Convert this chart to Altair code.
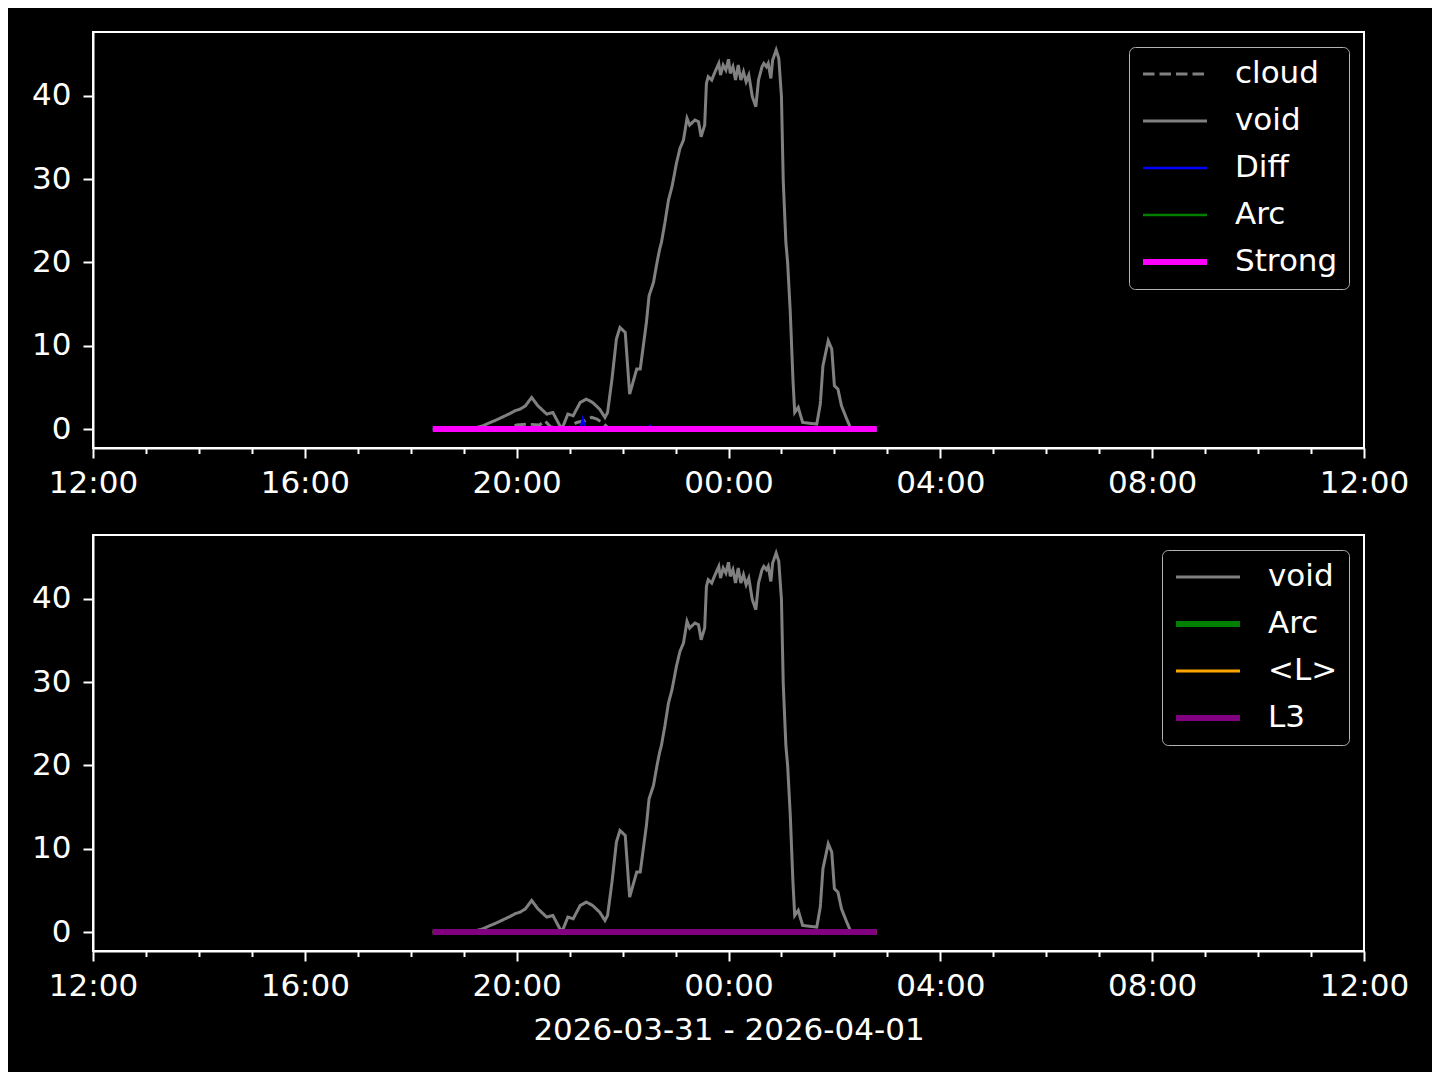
import altair as alt
import pandas as pd

# ---------------- data ----------------
VOID_T = [
    "03-31 18:25", "03-31 19:07", "03-31 19:15", "03-31 19:22", "03-31 19:28",
    "03-31 19:35", "03-31 19:41", "03-31 19:47", "03-31 19:53", "03-31 19:58",
    "03-31 20:04", "03-31 20:10", "03-31 20:17", "03-31 20:24", "03-31 20:29",
    "03-31 20:34", "03-31 20:41", "03-31 20:45", "03-31 20:49", "03-31 20:52",
    "03-31 20:58", "03-31 21:04", "03-31 21:12", "03-31 21:19", "03-31 21:26",
    "03-31 21:34", "03-31 21:40", "03-31 21:43", "03-31 21:48", "03-31 21:53",
    "03-31 21:57", "03-31 22:03", "03-31 22:08", "03-31 22:16", "03-31 22:20",
    "03-31 22:23", "03-31 22:27", "03-31 22:30", "03-31 22:35", "03-31 22:39",
    "03-31 22:42", "03-31 22:44", "03-31 22:48", "03-31 22:52", "03-31 22:56",
    "03-31 23:01", "03-31 23:05", "03-31 23:09", "03-31 23:13", "03-31 23:16",
    "03-31 23:22", "03-31 23:26", "03-31 23:29", "03-31 23:33", "03-31 23:35",
    "03-31 23:37", "03-31 23:41", "03-31 23:44", "03-31 23:49", "03-31 23:51",
    "03-31 23:54", "03-31 23:57", "04-01 00:00", "04-01 00:02", "04-01 00:05",
    "04-01 00:08", "04-01 00:11", "04-01 00:14", "04-01 00:17", "04-01 00:20",
    "04-01 00:23", "04-01 00:27", "04-01 00:31", "04-01 00:34", "04-01 00:38",
    "04-01 00:40", "04-01 00:43", "04-01 00:45", "04-01 00:48", "04-01 00:50",
    "04-01 00:54", "04-01 00:57", "04-01 01:00", "04-01 01:02", "04-01 01:05",
    "04-01 01:07", "04-01 01:10", "04-01 01:13", "04-01 01:15", "04-01 01:19",
    "04-01 01:24", "04-01 01:32", "04-01 01:40", "04-01 01:44", "04-01 01:47",
    "04-01 01:53", "04-01 01:57", "04-01 02:00", "04-01 02:04", "04-01 02:08",
    "04-01 02:14", "04-01 02:18", "04-01 02:48",
]
VOID_V = [
    0.0, 0.0, 0.2, 0.4, 0.7,
    1.0, 1.3, 1.6, 1.9, 2.2,
    2.4, 2.8, 3.8, 2.8, 2.3,
    1.8, 2.0, 1.2, 0.4, 0.2,
    1.8, 1.6, 3.2, 3.6, 3.2,
    2.4, 1.4, 2.0, 6.0, 10.8,
    12.2, 11.6, 4.2, 7.2, 7.2,
    9.6, 12.8, 16.0, 17.6, 20.0,
    21.6, 22.4, 24.8, 27.5, 29.1,
    31.9, 33.7, 34.7, 37.3, 36.5,
    37.1, 36.9, 35.1, 36.5, 41.5,
    42.3, 41.9, 42.7, 43.9, 42.5,
    43.7, 43.1, 44.4, 42.7, 43.5,
    41.9, 43.7, 41.9, 42.9, 41.7,
    42.5, 39.9, 38.7, 41.9, 43.5,
    43.9, 43.5, 43.9, 42.1, 44.3,
    45.5, 44.5, 39.9, 29.9, 22.4,
    20.0, 14.0, 6.0, 2.0, 2.6,
    0.8, 0.7, 0.6, 3.0, 7.6,
    10.6, 9.6, 5.2, 4.8, 2.8,
    1.2, 0.2, 0.0,
]
CLOUD_T = ["03-31 18:25", "03-31 19:50", "03-31 20:00", "03-31 20:11", "03-31 20:26",
           "03-31 20:32", "03-31 20:38", "03-31 20:49", "03-31 21:00", "03-31 21:08",
           "03-31 21:17", "03-31 21:25", "03-31 21:31", "03-31 21:38", "03-31 21:43",
           "04-01 02:48"]
CLOUD_V = [0.0, 0.0, 0.5, 0.6, 0.5, 1.0, 0.3, 0.0, 0.2, 0.8, 1.0, 1.4, 1.2, 0.7, 0.2, 0.0]
DIFF_T = ["03-31 18:25", "03-31 21:12", "03-31 21:15", "03-31 21:18",
          "03-31 22:28", "03-31 22:31", "03-31 22:34", "04-01 02:48"]
DIFF_V = [0.0, 0.0, 1.2, 0.0, 0.0, 0.4, 0.0, 0.0]
FLAT_T = ["03-31 18:25", "04-01 02:48"]
FLAT_V = [0.0, 0.0]

TOP_SERIES = ["cloud", "void", "Diff", "Arc", "Strong"]
TOP_COLORS = ["#808080", "#808080", "#0000ff", "#008000", "#ff00ff"]
TOP_WIDTHS = [3.0, 3.0, 2.3, 2.3, 6.0]
TOP_DASHES = [[11.5, 5], [1, 0], [1, 0], [1, 0], [1, 0]]

BOT_SERIES = ["void", "Arc", "<L>", "L3"]
BOT_COLORS = ["#808080", "#008000", "#ffa500", "#800080"]
BOT_WIDTHS = [3.0, 6.0, 3.0, 6.0]
BOT_DASHES = [[1, 0], [1, 0], [1, 0], [1, 0]]

X_TITLE = "2026-03-31 - 2026-04-01"
Y_TICKS = [0, 10, 20, 30, 40]
Y_DOMAIN = [-2.27, 47.67]
FONT = "DejaVu Sans"


def rows(name, times, vals):
    return [{"t": "2026-" + t.replace(" ", "T") + ":00", "v": v, "s": name}
            for t, v in zip(times, vals)]


top_df = pd.DataFrame(
    rows("cloud", CLOUD_T, CLOUD_V) + rows("void", VOID_T, VOID_V)
    + rows("Diff", DIFF_T, DIFF_V) + rows("Arc", FLAT_T, FLAT_V)
    + rows("Strong", FLAT_T, FLAT_V)
)
bot_df = pd.DataFrame(
    rows("void", VOID_T, VOID_V) + rows("Arc", FLAT_T, FLAT_V)
    + rows("<L>", FLAT_T, FLAT_V) + rows("L3", FLAT_T, FLAT_V)
)

x_start = alt.DateTime(year=2026, month=3, date=31, hours=12)
x_end = alt.DateTime(year=2026, month=4, date=1, hours=12)
hour_ticks = [alt.DateTime(year=2026, month=3 if h < 12 else 4,
                           date=31 if h < 12 else 1, hours=(12 + h) % 24)
              for h in range(25)]

is_major = "hours(datum.value) % 4 === 0"


def x_enc(title):
    axis = alt.Axis(
        values=hour_ticks,
        labelExpr=f"{is_major} ? timeFormat(datum.value, '%H:%M') : ''",
        tickSize={"condition": {"test": is_major, "value": 10}, "value": 5.5},
        labelPadding=10.5,
        labelFlush=False,
        labelOverlap=False,
        labelBound=False,
        grid=False,
        titlePadding=14,
        title=title if title else None,
    )
    return alt.X("t:T", scale=alt.Scale(domain=[x_start, x_end]), axis=axis)


y_enc = alt.Y(
    "v:Q",
    scale=alt.Scale(domain=Y_DOMAIN, nice=False, zero=False),
    axis=alt.Axis(values=Y_TICKS, tickSize=10, labelPadding=12, title=None, grid=False),
)

legend = alt.Legend(
    title=None,
    orient="top-right",
    offset=15,
    padding=11,
    strokeColor="#b3b3b3",
    fillColor="#000000",
    cornerRadius=6,
    symbolType="stroke",
    symbolSize=4096,
    labelOffset=25,
    labelFontSize=31,
    labelFont=FONT,
    labelColor="white",
    labelLimit=600,
    clipHeight=32,
    rowPadding=15,
)


def panel(df, series, colors, widths, dashes, title):
    enc = dict(
        x=x_enc(title),
        y=y_enc,
        color=alt.Color("s:N", scale=alt.Scale(domain=series, range=colors), legend=legend),
        strokeWidth=alt.StrokeWidth(
            "s:N", scale=alt.Scale(type="ordinal", domain=series, range=widths), legend=legend
        ),
        strokeDash=alt.StrokeDash(
            "s:N", scale=alt.Scale(type="ordinal", domain=series, range=dashes), legend=legend
        ),
    )
    layers = [
        alt.Chart(df).transform_filter(alt.datum.s == name)
        .mark_line(strokeCap="butt").encode(**enc)
        for name in series
    ]
    return alt.layer(*layers).properties(width=1271, height=416)


top = panel(top_df, TOP_SERIES, TOP_COLORS, TOP_WIDTHS, TOP_DASHES, None)
bottom = panel(bot_df, BOT_SERIES, BOT_COLORS, BOT_WIDTHS, BOT_DASHES, X_TITLE)

chart = alt.vconcat(top, bottom, spacing=34).resolve_scale(
    color="independent", strokeWidth="independent", strokeDash="independent"
).resolve_legend(
    color="independent", strokeWidth="independent", strokeDash="independent"
).properties(
    background="black",
    padding={"left": 22, "top": 23, "right": 22, "bottom": 25},
).configure_view(
    stroke="white", strokeWidth=2, fill="black"
).configure_axis(
    domainColor="white", domainWidth=2, tickColor="white", tickWidth=2,
    labelColor="white", labelFont=FONT, labelFontSize=31,
    titleColor="white", titleFont=FONT, titleFontSize=31, titleFontWeight="normal",
)

chart.save("out.html", embed_options={"renderer": "svg", "actions": False})
